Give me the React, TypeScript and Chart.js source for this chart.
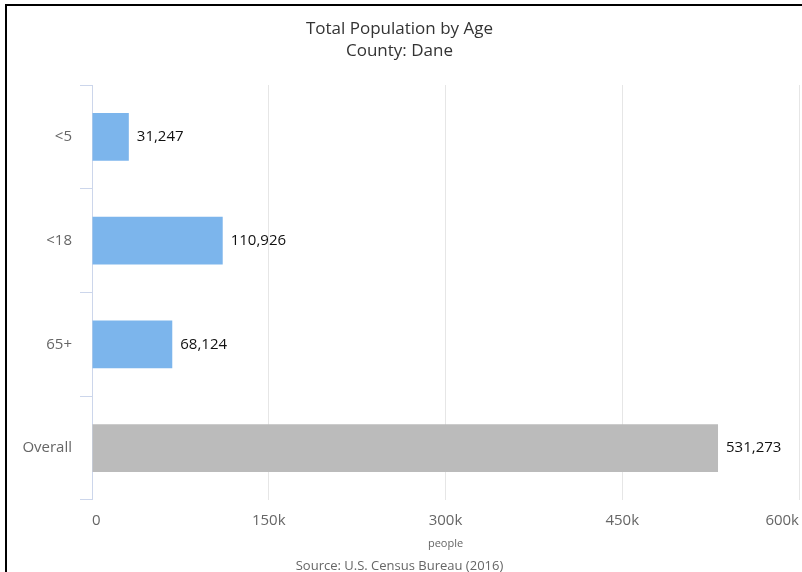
import React, { useEffect, useRef } from "react";
import { Chart, registerables } from "chart.js";

Chart.register(...registerables);

const categories = ["<5", "<18", "65+", "Overall"];
const populationValues = [31247, 110926, 68124, 531273];
const xTickValues = [0, 150000, 300000, 450000, 600000];
const titleLines = ["Total Population by Age", "County: Dane"];
const sourceText = "Source: U.S. Census Bureau (2016)";
const xAxisTitle = "people";

const FONT = "'Open Sans', 'DejaVu Sans', sans-serif";

const dataLabelPlugin = {
  id: "dataLabels",
  afterDatasetsDraw(chart: any) {
    const ctx = chart.ctx;
    const meta = chart.getDatasetMeta(0);
    ctx.save();
    ctx.font = `15px ${FONT}`;
    ctx.fillStyle = "#111111";
    ctx.textAlign = "left";
    ctx.textBaseline = "middle";
    meta.data.forEach((bar: any, i: number) => {
      const v = chart.data.datasets[0].data[i] as number;
      ctx.fillText(v.toLocaleString("en-US"), bar.x + 8, bar.y);
    });
    ctx.restore();
  },
};

export default function App() {
  const canvasRef = useRef<HTMLCanvasElement | null>(null);

  useEffect(() => {
    if (!canvasRef.current) return;
    const chart = new Chart(canvasRef.current, {
      type: "bar",
      data: {
        labels: categories,
        datasets: [
          {
            data: populationValues,
            backgroundColor: (c: any) =>
              categories[c.dataIndex] === "Overall" ? "#bbbbbb" : "#7cb5ec",
            borderWidth: 0,
            barPercentage: 0.46,
            categoryPercentage: 1,
          },
        ],
      },
      options: {
        indexAxis: "y",
        animation: false,
        responsive: false,
        maintainAspectRatio: false,
        layout: { padding: { left: 0, right: 3, top: 0, bottom: 0 } },
        plugins: {
          legend: { display: false },
          tooltip: { enabled: false },
          title: {
            display: true,
            text: titleLines,
            color: "#333333",
            font: { family: FONT, size: 17, weight: "normal", lineHeight: 1.25 },
            padding: { top: 19, bottom: 23.5 },
          },
          subtitle: {
            display: true,
            position: "bottom",
            text: sourceText,
            color: "#666666",
            font: { family: FONT, size: 13, weight: "normal", lineHeight: 0.85 },
            padding: { top: 0, bottom: 0 },
          },
        },
        scales: {
          x: {
            type: "linear",
            min: 0,
            max: 600000,
            afterBuildTicks: (scale: any) => {
              scale.ticks = xTickValues.map((v) => ({ value: v }));
            },
            afterFit: (scale: any) => {
              scale.height = 61;
              scale.paddingRight = 0;
              scale.paddingLeft = 0;
            },
            ticks: {
              color: "#666666",
              font: { family: FONT, size: 15 },
              padding: 12,
              align: "inner",
              maxRotation: 0,
              callback: (v: any) => (Number(v) === 0 ? "0" : Number(v) / 1000 + "k"),
            },
            grid: {
              color: "#e6e6e6",
              lineWidth: 1,
              drawTicks: false,
            },
            border: { display: false },
            title: {
              display: true,
              text: xAxisTitle,
              color: "#666666",
              font: { family: FONT, size: 11, lineHeight: 1.2 },
              padding: { top: 0, bottom: 10 },
            },
          },
          y: {
            type: "category",
            afterFit: (scale: any) => {
              scale.width = 92;
            },
            ticks: {
              color: "#666666",
              font: { family: FONT, size: 15 },
              padding: 8,
            },
            grid: {
              offset: true,
              drawOnChartArea: false,
              drawTicks: true,
              tickLength: 12,
              color: "#ccd6eb",
              lineWidth: 1,
            },
            border: { display: true, color: "#ccd6eb", width: 1 },
          },
        },
      },
      plugins: [dataLabelPlugin],
    } as any);
    return () => chart.destroy();
  }, []);

  return (
    <div
      style={{
        position: "absolute",
        left: 0,
        top: 0,
        width: 802,
        height: 572,
        background: "#ffffff",
        overflow: "hidden",
      }}
    >
      <div
        style={{
          position: "absolute",
          left: 5,
          top: 4,
          width: 800,
          height: 600,
          borderLeft: "2px solid #000",
          borderTop: "2px solid #000",
        }}
      />
      <canvas
        ref={canvasRef}
        width={802}
        height={572}
        style={{ position: "absolute", left: 0, top: 0, width: 802, height: 572 }}
      />
    </div>
  );
}
